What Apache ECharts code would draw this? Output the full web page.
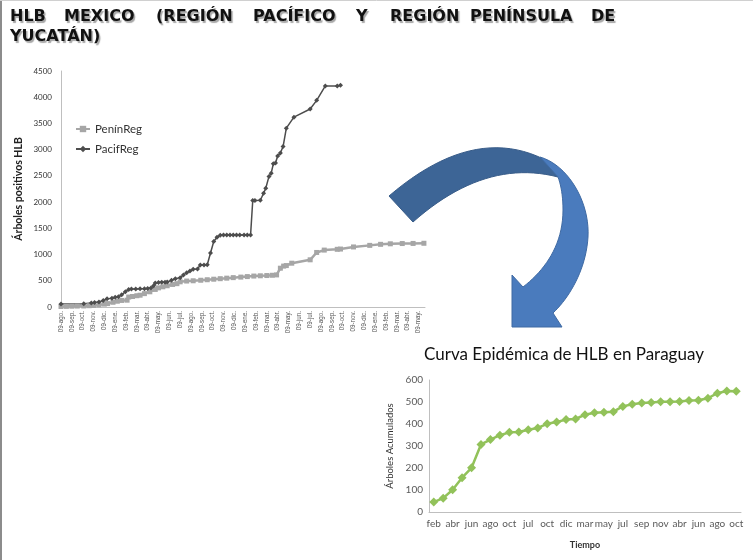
<!DOCTYPE html>
<html>
<head>
<meta charset="utf-8">
<script src="https://cdn.jsdelivr.net/npm/echarts@6/dist/echarts.min.js"></script>
<style>
html,body{margin:0;padding:0;background:#fff;}
#c{width:753px;height:560px;}
</style>
</head>
<body>
<div id="c"></div>
<script>
// ---------- Data ----------
// Mexico chart: x = months since first tick (09-ago.), y = cumulative positive trees
const mexTickLabels = ['09-ago.','09-sep.','09-oct.','09-nov.','09-dic.','09-ene.','09-feb.','09-mar.','09-abr.','09-may.','09-jun.','09-jul.',
  '09-ago.','09-sep.','09-oct.','09-nov.','09-dic.','09-ene.','09-feb.','09-mar.','09-abr.','09-may.','09-jun.','09-jul.',
  '09-ago.','09-sep.','09-oct.','09-nov.','09-dic.','09-ene.','09-feb.','09-mar.','09-abr.','09-may.'];
const mexYTicks = [0, 500, 1000, 1500, 2000, 2500, 3000, 3500, 4000, 4500];
const peninReg = [[0,10],[0.5,12],[1,15],[1.5,18],[2.1,20],[2.6,25],[3.0,30],[3.5,40],[4.0,55],[4.3,65],[4.8,90],[5.2,110],[5.6,125],[6.1,130],[6.25,190],[6.6,200],[7.0,215],[7.3,225],[7.7,255],[8.2,290],[8.7,335],[9.0,365],[9.4,385],[9.8,405],[10.3,430],[10.7,445],[11.0,480],[11.6,495],[12.2,500],[12.9,510],[13.5,520],[14.1,530],[14.7,540],[15.3,550],[15.9,560],[16.6,570],[17.2,580],[17.8,590],[18.4,595],[19.0,600],[19.5,605],[19.9,612],[20.25,740],[20.55,780],[20.8,790],[21.3,835],[23.0,900],[23.6,1040],[24.3,1085],[25.5,1100],[25.8,1105],[27.0,1145],[28.5,1175],[29.5,1195],[30.4,1205],[31.5,1210],[32.5,1212],[33.5,1215]];
const pacifReg = [[0,55],[2.1,60],[2.8,75],[3.1,85],[3.5,95],[3.9,125],[4.25,155],[4.7,165],[5.0,185],[5.3,195],[5.6,235],[5.94,290],[6.25,335],[6.5,345],[6.9,345],[7.3,350],[7.7,350],[8.0,355],[8.3,360],[8.55,405],[8.7,460],[9.0,465],[9.3,470],[9.6,470],[9.8,475],[10.2,510],[10.55,540],[11.0,560],[11.3,610],[11.6,655],[11.9,685],[12.2,720],[12.6,725],[12.86,800],[13.2,800],[13.5,805],[13.8,1030],[14.1,1250],[14.4,1330],[14.7,1370],[15.0,1375],[15.3,1375],[15.6,1375],[15.9,1375],[16.2,1375],[16.5,1375],[16.9,1375],[17.2,1375],[17.5,1375],[17.7,2030],[17.9,2030],[18.4,2035],[18.7,2170],[18.9,2265],[19.2,2490],[19.4,2550],[19.6,2730],[19.8,2745],[20.0,2880],[20.25,2935],[20.5,3060],[20.8,3410],[21.5,3620],[23.0,3775],[23.6,3940],[24.4,4215],[25.5,4215],[25.8,4230]];

// Paraguay chart
const pyMonths = ['feb','mar','abr','may','jun','jul','ago','sep','oct','may','jul','sep','oct','nov','dic','feb','mar','abr','may','jun','jul','ago','sep','oct','nov','feb','abr','may','jun','jul','ago','sep','oct'];
const pyValues = [45,63,101,156,201,307,329,349,362,364,374,382,401,409,420,423,442,451,453,456,480,490,495,498,501,501,502,507,508,517,540,550,549];
const pyYTicks = [0,100,200,300,400,500,600];

// Title words (justified layout)
const titleLine1 = ['HLB','MEXICO','(REGIÓN','PACÍFICO','Y','REGIÓN','PENÍNSULA','DE'];
const titleLine2 = ['YUCATÁN)'];
const title1X = [10, 64, 156, 253, 356, 390, 470, 591];

// ---------- helpers for the decorative arrow ----------
function quad(p0,p1,p2,n){const o=[];for(let i=0;i<=n;i++){const t=i/n,a=(1-t)*(1-t),b=2*t*(1-t),c=t*t;o.push([a*p0[0]+b*p1[0]+c*p2[0],a*p0[1]+b*p1[1]+c*p2[1]]);}return o;}
function cubic(p0,p1,p2,p3,n){const o=[];for(let i=0;i<=n;i++){const t=i/n,u=1-t;const a=u*u*u,b=3*u*u*t,c=3*u*t*t,d=t*t*t;o.push([a*p0[0]+b*p1[0]+c*p2[0]+d*p3[0],a*p0[1]+b*p1[1]+c*p2[1]+d*p3[1]]);}return o;}
const arrowDark = [].concat(quad([389,196],[480,118],[556,166],24), [[558,177]], quad([558,177],[485,158],[413,222],24));
const arrowLight = [].concat(
  cubic([540,157],[568,165],[590,202],[588,237],20),
  cubic([588,237],[586,270],[569,298],[553,313],20),
  [[562,327],[512,327],[512,275],[523,287]],
  cubic([523,287],[545,270],[563,245],[563,210],20),
  cubic([563,210],[563,196],[561,185],[558,177],10)
);

// ---------- Chart ----------
const chart = echarts.init(document.getElementById('c'), null, {renderer:'canvas'});

const tStyle = {font:'bold 16px "DejaVu Sans"', fill:'#111', textShadowColor:'rgba(0,0,0,0.35)', textShadowOffsetX:1.5, textShadowOffsetY:1.5, textShadowBlur:1};
const titleGraphics = [];
titleLine1.forEach((w,i)=>{
  titleGraphics.push({type:'text', x: title1X[i], y: 9, silent:true, style:Object.assign({text:w}, tStyle)});
});
titleLine2.forEach((w)=>{
  titleGraphics.push({type:'text', x: 10, y: 29, silent:true, style:Object.assign({text:w}, tStyle)});
});

const option = {
  backgroundColor:'#fff',
  animation:false,
  textStyle:{fontFamily:'Lato'},
  legend:{
    data:['PenínReg','PacifReg'],
    orient:'vertical', left:70, top:118, itemGap:8, itemWidth:14, itemHeight:8,
    textStyle:{fontSize:11.5, color:'#333', fontFamily:'Lato'}
  },
  grid:[
    {left:61, right:328, top:71, bottom:253},
    {left:429, right:12, top:380, bottom:48}
  ],
  xAxis:[
    {gridIndex:0, type:'value', min:0, max:33.6, interval:1,
      axisLine:{lineStyle:{color:'#bfbfbf'}}, axisTick:{show:false}, splitLine:{show:false},
      axisLabel:{rotate:90, fontSize:6.3, color:'#555', margin:4, fontFamily:'Liberation Sans',
        formatter:function(v){const i=Math.round(v); return (Math.abs(v-i)<1e-6 && i<mexTickLabels.length)? mexTickLabels[i] : '';}}},
    {gridIndex:1, type:'category', data:pyMonths, boundaryGap:true,
      name:'Tiempo', nameLocation:'middle', nameGap:29,
      nameTextStyle:{fontSize:9, fontWeight:'bold', color:'#333', fontFamily:'Lato'},
      axisLine:{lineStyle:{color:'#bfbfbf'}}, axisTick:{show:false},
      axisLabel:{interval:1, fontSize:10, color:'#595959', margin:7, fontFamily:'Lato'}}
  ],
  yAxis:[
    {gridIndex:0, type:'value', min:mexYTicks[0], max:mexYTicks[mexYTicks.length-1], interval:500,
      name:'Árboles positivos HLB', nameLocation:'middle', nameGap:37,
      nameTextStyle:{fontSize:10.5, fontWeight:'bold', color:'#222', fontFamily:'Lato'},
      axisLine:{show:true, lineStyle:{color:'#bfbfbf'}}, axisTick:{show:false}, splitLine:{show:false},
      axisLabel:{fontSize:8, color:'#333', margin:9, fontFamily:'Lato', formatter:function(v){return String(v);}}},
    {gridIndex:1, type:'value', min:pyYTicks[0], max:pyYTicks[pyYTicks.length-1], interval:100,
      name:'Árboles Acumulados', nameLocation:'middle', nameGap:34,
      nameTextStyle:{fontSize:9.5, color:'#333', fontFamily:'Lato'},
      axisLine:{show:true, lineStyle:{color:'#bfbfbf'}}, axisTick:{show:false}, splitLine:{show:false},
      axisLabel:{fontSize:10, color:'#595959', margin:6, fontFamily:'Lato', formatter:function(v){return String(v);}}}
  ],
  series:[
    {name:'PenínReg', type:'line', xAxisIndex:0, yAxisIndex:0, data:peninReg,
      symbol:'rect', symbolSize:5, showAllSymbol:true,
      lineStyle:{color:'#a6a6a6', width:2.5}, itemStyle:{color:'#a6a6a6'}},
    {name:'PacifReg', type:'line', xAxisIndex:0, yAxisIndex:0, data:pacifReg,
      symbol:'diamond', symbolSize:5, showAllSymbol:true,
      lineStyle:{color:'#4d4d4d', width:1.5}, itemStyle:{color:'#4d4d4d'}},
    {name:'Paraguay', type:'line', xAxisIndex:1, yAxisIndex:1, data:pyValues,
      symbol:'diamond', symbolSize:9, showAllSymbol:true,
      lineStyle:{color:'#92c25a', width:2.5}, itemStyle:{color:'#92c25a'}}
  ],
  graphic:[
    {type:'line', silent:true, shape:{x1:1, y1:0, x2:1, y2:560}, style:{stroke:'#8c8c8c', lineWidth:2}},
    {type:'line', silent:true, shape:{x1:0, y1:0.5, x2:753, y2:0.5}, style:{stroke:'#d0d0d0', lineWidth:1}},
    ...titleGraphics,
    {type:'polygon', silent:true, shape:{points:arrowDark},
      style:{fill:'#3d6596', stroke:'#375b88', lineWidth:1}},
    {type:'polygon', silent:true, shape:{points:arrowLight},
      style:{fill:'#4a7bbd', stroke:'#3f6aa3', lineWidth:1}},
    {type:'text', silent:true, x:564, y:355,
      style:{text:'Curva Epidémica de HLB en Paraguay', font:'17px Lato', fill:'#111', align:'center', verticalAlign:'middle'}}
  ]
};
chart.setOption(option);
</script>
</body>
</html>
